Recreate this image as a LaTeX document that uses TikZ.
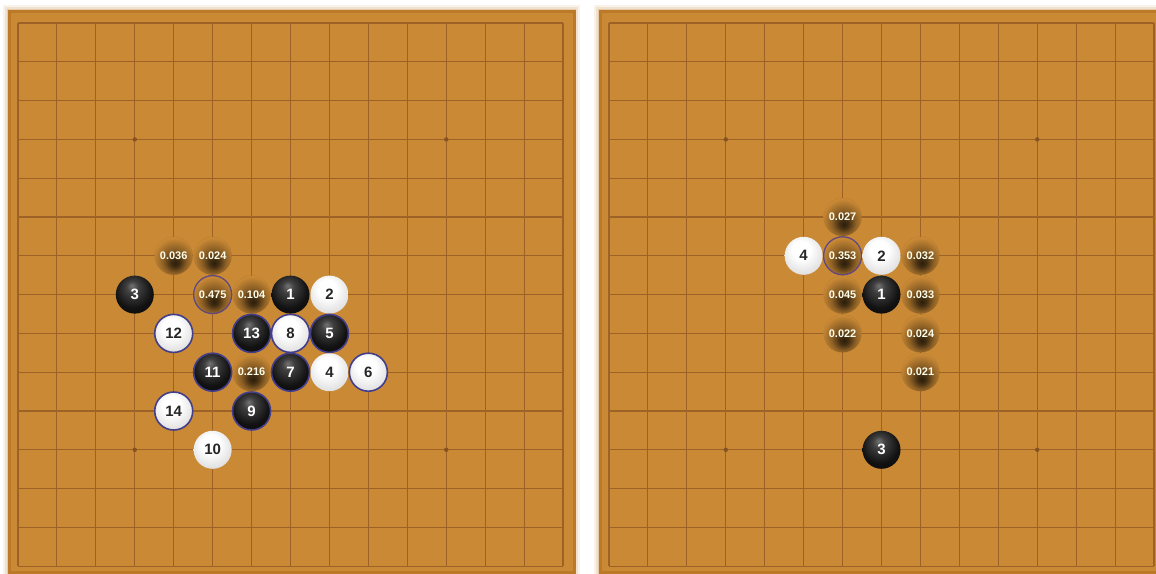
\documentclass[tikz,border=0pt]{standalone}
\usepackage{fontspec}
\setsansfont{Liberation Sans}

\definecolor{board}{RGB}{201,137,53}
\definecolor{boardedge}{RGB}{188,122,40}
\definecolor{linebrown}{RGB}{158,98,38}
\definecolor{ringblue}{RGB}{66,62,138}
\definecolor{ringpurple}{RGB}{96,72,128}

\pgfdeclareradialshading{blackball}{\pgfpoint{-4bp}{12bp}}{color(0bp)=(black!55); color(8bp)=(black!75); color(24bp)=(black!93); color(50bp)=(black)}
\pgfdeclareradialshading{whiteball}{\pgfpoint{-4bp}{10bp}}{color(0bp)=(white); color(12bp)=(white); color(34bp)=(black!16); color(50bp)=(black!38)}
\pgfdeclareradialshading{probblob}{\pgfpoint{2bp}{-10bp}}{color(0bp)=(black!78!board); color(6bp)=(black!66!board); color(16bp)=(black!30!board); color(28bp)=(board); color(50bp)=(board)}

\tikzset{
  stone/.style={circle, inner sep=0pt, minimum size=38pt, font=\sffamily\bfseries\fontsize{15}{15}\selectfont},
  blackstone/.style={stone, shading=blackball, text=white},
  whitestone/.style={stone, shading=whiteball, text=black!85},
  lastmove/.style={draw=ringblue, line width=1.6pt},
  prob/.style={circle, inner sep=0pt, minimum size=38pt, shading=probblob, draw=black, draw opacity=0.06, text=white!92!yellow, font=\sffamily\bfseries\fontsize{11}{11}\selectfont},
  best/.style={draw=ringpurple, draw opacity=1, line width=1.3pt},
  gridrule/.style={linebrown, line width=1.1pt},
  stardot/.style={fill=linebrown!85!black}
}

\begin{document}
\begin{tikzpicture}[x=1pt, y=-1pt]
    \clip (0,0) rectangle (1156,573);
    \fill[white] (0,0) rectangle (1156,573);

    % boards with a soft glow
    \foreach \bx in {9,600} {
        \foreach \d/\o in {6/0.10,4/0.15,2/0.25}
            \fill[board, opacity=\o] (\bx-\d,11-\d) rectangle (\bx+565+\d,572+\d);
        \fill[board, draw=boardedge, line width=3pt] (\bx,11) rectangle (\bx+565,572);
    }

    % left board
    \begin{scope}[shift={(18,23)}, x=38.93pt, y=-38.8pt]
        \foreach \i in {0,...,14} {
            \draw[gridrule] (\i,0) -- (\i,14);
            \draw[gridrule] (0,\i) -- (14,\i);
        }
        \foreach \c/\r in {3/3,11/3,3/11,11/11,7/7}
            \fill[stardot] (\c,\r) circle (2.2pt);

        \foreach \c/\r/\p in {4/6/0.036, 5/6/0.024, 6/7/0.104, 6/9/0.216}
            \node[prob] (Lp\c\r) at (\c,\r) {\p};
        \node[prob, best] (Lp57) at (5,7) {0.475};

        \node[blackstone] (L1) at (7,7) {1};
        \node[whitestone] (L2) at (8,7) {2};
        \node[blackstone] (L3) at (3,7) {3};
        \node[whitestone] (L4) at (8,9) {4};
        \node[blackstone, lastmove] (L5) at (8,8) {5};
        \node[whitestone, lastmove] (L6) at (9,9) {6};
        \node[blackstone, lastmove] (L7) at (7,9) {7};
        \node[whitestone, lastmove] (L8) at (7,8) {8};
        \node[blackstone, lastmove] (L9) at (6,10) {9};
        \node[whitestone] (L10) at (5,11) {10};
        \node[blackstone, lastmove] (L11) at (5,9) {11};
        \node[whitestone, lastmove] (L12) at (4,8) {12};
        \node[blackstone, lastmove] (L13) at (6,8) {13};
        \node[whitestone, lastmove] (L14) at (4,10) {14};
    \end{scope}

    % right board
    \begin{scope}[shift={(609,23)}, x=38.93pt, y=-38.8pt]
        \foreach \i in {0,...,14} {
            \draw[gridrule] (\i,0) -- (\i,14);
            \draw[gridrule] (0,\i) -- (14,\i);
        }
        \foreach \c/\r in {3/3,11/3,3/11,11/11,7/7}
            \fill[stardot] (\c,\r) circle (2.2pt);

        \foreach \c/\r/\p in {6/5/0.027, 8/6/0.032, 6/7/0.045, 8/7/0.033, 6/8/0.022, 8/8/0.024, 8/9/0.021}
            \node[prob] (Rp\c\r) at (\c,\r) {\p};
        \node[prob, best] (Rp66) at (6,6) {0.353};

        \node[blackstone] (R1) at (7,7) {1};
        \node[whitestone] (R2) at (7,6) {2};
        \node[blackstone] (R3) at (7,11) {3};
        \node[whitestone] (R4) at (5,6) {4};
    \end{scope}
\end{tikzpicture}
\end{document}
